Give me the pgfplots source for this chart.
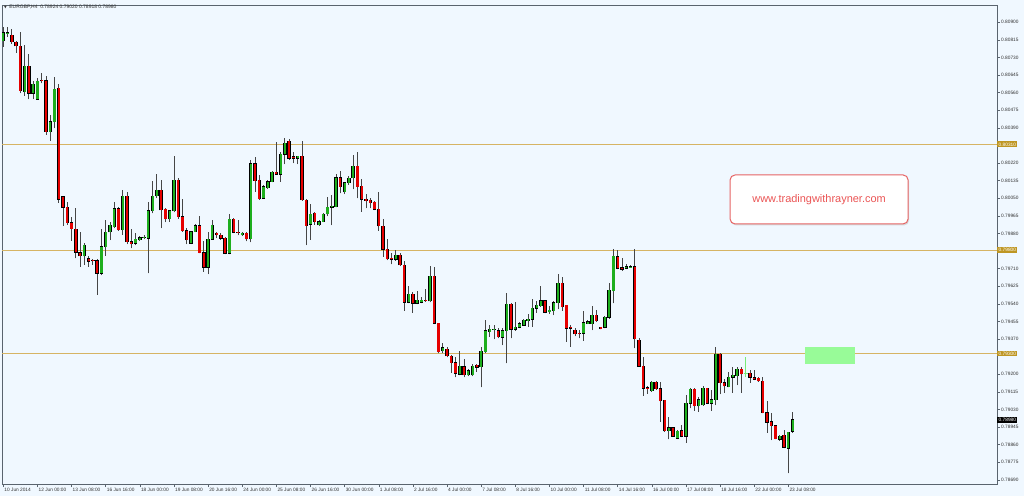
\documentclass[border=0pt]{standalone}
\usepackage{pgfplots}
\pgfplotsset{compat=1.18}
\usepackage{pgfplotstable}
\usepackage{fontspec}
\setmainfont{Liberation Sans}
\newfontfamily\symfont{DejaVu Sans}
\usetikzlibrary{shadows}

\definecolor{bg}{RGB}{240,248,255}
\definecolor{bull}{RGB}{30,175,30}
\definecolor{bear}{RGB}{230,0,0}
\definecolor{wick}{RGB}{70,70,70}
\definecolor{hline}{RGB}{214,180,100}
\definecolor{lvl}{RGB}{190,150,35}
\definecolor{axisgray}{RGB}{90,100,110}
\definecolor{lbl}{RGB}{50,50,50}
\definecolor{boxred}{RGB}{230,100,100}
\definecolor{txtred}{RGB}{235,85,85}
\definecolor{zone}{RGB}{152,251,152}
\definecolor{cross}{RGB}{120,235,120}

% EURGBP H4, one row per bar
\pgfplotstableread{
i O H L C
0 0.80811 0.80876 0.80782 0.80850
1 0.80847 0.80879 0.80830 0.80850
2 0.80837 0.80866 0.80795 0.80805
3 0.80805 0.80811 0.80753 0.80785
4 0.80785 0.80855 0.80557 0.80570
5 0.80565 0.80790 0.80544 0.80686
6 0.80689 0.80747 0.80528 0.80557
7 0.80557 0.80618 0.80528 0.80602
8 0.80528 0.80629 0.80525 0.80616
9 0.80620 0.80657 0.80605 0.80616
10 0.80618 0.80641 0.80356 0.80372
11 0.80372 0.80452 0.80328 0.80420
12 0.80420 0.80637 0.80388 0.80578
13 0.80581 0.80602 0.80029 0.80045
14 0.80058 0.80061 0.79916 0.80006
15 0.80006 0.80034 0.79921 0.79932
16 0.79932 0.79958 0.79845 0.79902
17 0.79902 0.80001 0.79760 0.79789
18 0.79787 0.79887 0.79720 0.79771
19 0.79771 0.79835 0.79728 0.79824
20 0.79758 0.79771 0.79720 0.79745
21 0.79750 0.79758 0.79728 0.79747
22 0.79749 0.79758 0.79583 0.79687
23 0.79687 0.79900 0.79679 0.79816
24 0.79816 0.79945 0.79771 0.79887
25 0.79887 0.79937 0.79848 0.79921
26 0.79913 0.80034 0.79905 0.80000
27 0.80000 0.80009 0.79894 0.79897
28 0.79897 0.80090 0.79873 0.80061
29 0.80061 0.80082 0.79828 0.79840
30 0.79840 0.79900 0.79808 0.79829
31 0.79832 0.79881 0.79824 0.79852
32 0.79848 0.79868 0.79845 0.79860
33 0.79860 0.79873 0.79852 0.79863
34 0.79856 0.80034 0.79687 0.79990
35 0.79990 0.80135 0.79977 0.80061
36 0.80061 0.80167 0.80050 0.80090
37 0.80090 0.80138 0.79905 0.79993
38 0.79998 0.80002 0.79934 0.79950
39 0.79950 0.79993 0.79937 0.79989
40 0.79989 0.80256 0.79982 0.80138
41 0.80138 0.80146 0.79950 0.79961
42 0.79961 0.80047 0.79889 0.79894
43 0.79894 0.79905 0.79828 0.79849
44 0.79832 0.79892 0.79828 0.79889
45 0.79889 0.79924 0.79886 0.79918
46 0.79918 0.79966 0.79784 0.79787
47 0.79787 0.79841 0.79696 0.79717
48 0.79717 0.79886 0.79683 0.79852
49 0.79852 0.79945 0.79849 0.79921
50 0.79881 0.79889 0.79857 0.79873
51 0.79873 0.79882 0.79849 0.79857
52 0.79857 0.79863 0.79779 0.79784
53 0.79784 0.79973 0.79779 0.79950
54 0.79950 0.79953 0.79881 0.79886
55 0.79887 0.79945 0.79870 0.79884
56 0.79873 0.79886 0.79868 0.79881
57 0.79881 0.79886 0.79841 0.79853
58 0.79853 0.80235 0.79837 0.80216
59 0.80216 0.80251 0.80082 0.80135
60 0.80138 0.80163 0.80042 0.80047
61 0.80050 0.80114 0.80047 0.80106
62 0.80101 0.80138 0.80095 0.80130
63 0.80130 0.80179 0.80127 0.80175
64 0.80175 0.80320 0.80163 0.80166
65 0.80166 0.80275 0.80130 0.80262
66 0.80262 0.80340 0.80214 0.80315
67 0.80324 0.80336 0.80235 0.80243
68 0.80251 0.80272 0.80219 0.80243
69 0.80243 0.80256 0.80214 0.80253
70 0.80253 0.80324 0.80037 0.80042
71 0.80042 0.80047 0.79824 0.79918
72 0.79924 0.80024 0.79849 0.79973
73 0.79977 0.79982 0.79921 0.79937
74 0.79921 0.79945 0.79918 0.79937
75 0.79937 0.79977 0.79934 0.79974
76 0.79974 0.80054 0.79964 0.80006
77 0.80006 0.80065 0.79920 0.80012
78 0.80009 0.80167 0.80006 0.80149
79 0.80149 0.80183 0.80073 0.80106
80 0.80081 0.80130 0.80070 0.80125
81 0.80125 0.80157 0.80114 0.80146
82 0.80149 0.80259 0.80093 0.80205
83 0.80205 0.80275 0.80049 0.80106
84 0.80109 0.80141 0.79985 0.80044
85 0.80044 0.80070 0.80001 0.80038
86 0.80041 0.80049 0.80001 0.80028
87 0.80030 0.80038 0.79993 0.79996
88 0.79996 0.80078 0.79893 0.79916
89 0.79916 0.79948 0.79768 0.79803
90 0.79803 0.79851 0.79751 0.79756
91 0.79759 0.79784 0.79731 0.79755
92 0.79755 0.79800 0.79748 0.79774
93 0.79776 0.79784 0.79722 0.79727
94 0.79727 0.79748 0.79507 0.79547
95 0.79547 0.79626 0.79542 0.79587
96 0.79587 0.79598 0.79497 0.79542
97 0.79542 0.79603 0.79539 0.79558
98 0.79547 0.79574 0.79542 0.79558
99 0.79558 0.79610 0.79550 0.79553
100 0.79553 0.79722 0.79547 0.79674
101 0.79674 0.79719 0.79442 0.79446
102 0.79446 0.79449 0.79301 0.79309
103 0.79314 0.79349 0.79301 0.79328
104 0.79322 0.79330 0.79281 0.79288
105 0.79288 0.79293 0.79207 0.79256
106 0.79256 0.79285 0.79185 0.79204
107 0.79199 0.79314 0.79194 0.79239
108 0.79236 0.79272 0.79185 0.79196
109 0.79196 0.79223 0.79191 0.79217
110 0.79196 0.79249 0.79191 0.79239
111 0.79244 0.79249 0.79212 0.79233
112 0.79236 0.79330 0.79136 0.79312
113 0.79309 0.79462 0.79304 0.79410
114 0.79405 0.79437 0.79381 0.79417
115 0.79416 0.79437 0.79368 0.79418
116 0.79410 0.79421 0.79373 0.79381
117 0.79378 0.79421 0.79341 0.79410
118 0.79410 0.79590 0.79252 0.79537
119 0.79537 0.79545 0.79373 0.79417
120 0.79417 0.79550 0.79410 0.79426
121 0.79426 0.79454 0.79421 0.79445
122 0.79437 0.79468 0.79433 0.79462
123 0.79458 0.79491 0.79429 0.79466
124 0.79466 0.79561 0.79429 0.79518
125 0.79518 0.79555 0.79497 0.79534
126 0.79531 0.79626 0.79526 0.79555
127 0.79555 0.79558 0.79494 0.79499
128 0.79502 0.79529 0.79491 0.79510
129 0.79507 0.79555 0.79486 0.79545
130 0.79545 0.79684 0.79513 0.79639
131 0.79639 0.79668 0.79507 0.79526
132 0.79532 0.79534 0.79357 0.79421
133 0.79426 0.79437 0.79333 0.79421
134 0.79413 0.79421 0.79384 0.79394
135 0.79399 0.79413 0.79373 0.79396
136 0.79397 0.79507 0.79362 0.79449
137 0.79445 0.79462 0.79442 0.79454
138 0.79445 0.79529 0.79413 0.79486
139 0.79486 0.79510 0.79454 0.79458
140 0.79426 0.79429 0.79417 0.79420
141 0.79426 0.79481 0.79421 0.79475
142 0.79475 0.79642 0.79468 0.79607
143 0.79603 0.79803 0.79542 0.79771
144 0.79768 0.79800 0.79706 0.79711
145 0.79714 0.79759 0.79700 0.79706
146 0.79711 0.79732 0.79706 0.79719
147 0.79719 0.79727 0.79716 0.79720
148 0.79719 0.79803 0.79325 0.79370
149 0.79365 0.79375 0.79236 0.79239
150 0.79239 0.79281 0.79095 0.79132
151 0.79135 0.79143 0.79107 0.79132
152 0.79120 0.79169 0.79115 0.79162
153 0.79162 0.79165 0.79124 0.79130
154 0.79130 0.79164 0.78971 0.79072
155 0.79075 0.79078 0.78922 0.78926
156 0.78927 0.78992 0.78885 0.78942
157 0.78942 0.78946 0.78898 0.78901
158 0.78890 0.78930 0.78887 0.78926
159 0.78927 0.78954 0.78895 0.78901
160 0.78901 0.79099 0.78869 0.79059
161 0.79059 0.79132 0.79035 0.79128
162 0.79128 0.79132 0.79024 0.79048
163 0.79046 0.79091 0.79019 0.79078
164 0.79051 0.79143 0.79048 0.79132
165 0.79132 0.79135 0.79056 0.79059
166 0.79059 0.79124 0.79024 0.79078
167 0.79078 0.79330 0.79051 0.79296
168 0.79297 0.79304 0.79104 0.79159
169 0.79159 0.79175 0.79111 0.79143
170 0.79140 0.79212 0.79136 0.79185
171 0.79185 0.79236 0.79111 0.79196
172 0.79193 0.79233 0.79148 0.79223
173 0.79223 0.79233 0.79111 0.79201
175 0.79204 0.79220 0.79159 0.79185
176 0.79183 0.79220 0.79172 0.79175
177 0.79181 0.79188 0.79164 0.79167
178 0.79167 0.79188 0.79011 0.79014
179 0.79014 0.79070 0.78917 0.78967
180 0.78971 0.79011 0.78882 0.78951
181 0.78951 0.78954 0.78885 0.78888
182 0.78885 0.78906 0.78879 0.78901
183 0.78906 0.78930 0.78842 0.78847
184 0.78842 0.78922 0.78721 0.78920
185 0.78924 0.79020 0.78918 0.78980
}\candles

\pgfplotsset{
  candle part/.style={only marks, mark size=0pt, mark options={draw=none, fill=none}, forget plot},
}

\begin{document}
\begin{tikzpicture}
\useasboundingbox (0,0) rectangle (1024bp,496bp);
\fill[bg] (0,0) rectangle (1024bp,496bp);

\begin{axis}[
    at={(2bp,12bp)}, anchor=south west,
    width=995bp, height=479bp, scale only axis,
    xmin=-0.3, xmax=232.9,
    ymin=0.78670, ymax=0.80983,
    clip=false,
    axis line style={draw=axisgray, line width=0.8bp},
    tick align=outside, major tick length=3bp,
    tick style={draw=axisgray, line width=0.5bp},
    xtick pos=bottom, ytick pos=right, yticklabel pos=right,
    xtick={0,8,...,184},
    xticklabels={10 Jun 2014,12 Jun 00:00,13 Jun 08:00,16 Jun 16:00,18 Jun 00:00,19 Jun 08:00,20 Jun 16:00,24 Jun 00:00,25 Jun 08:00,26 Jun 16:00,30 Jun 00:00,1 Jul 08:00,2 Jul 16:00,4 Jul 00:00,7 Jul 08:00,8 Jul 16:00,10 Jul 00:00,11 Jul 08:00,14 Jul 16:00,16 Jul 00:00,17 Jul 08:00,18 Jul 16:00,22 Jul 00:00,23 Jul 08:00},
    xticklabel style={anchor=north west, inner sep=1bp, font=\fontsize{4.8}{5}\selectfont, text=lbl},
    ytick={0.80900,0.80815,0.80730,0.80645,0.80560,0.80475,0.80390,0.80220,0.80135,0.80050,0.79965,0.79880,0.79710,0.79625,0.79540,0.79455,0.79370,0.79200,0.79115,0.79030,0.78945,0.78860,0.78775,0.78690},
    yticklabels={0.80900,0.80815,0.80730,0.80645,0.80560,0.80475,0.80390,0.80220,0.80135,0.80050,0.79965,0.79880,0.79710,0.79625,0.79540,0.79455,0.79370,0.79200,0.79115,0.79030,0.78945,0.78860,0.78775,0.78690},
    yticklabel style={anchor=west, inner sep=1bp, font=\fontsize{4.8}{5}\selectfont, text=lbl},
]

% levels
\addplot[hline, line width=0.8bp, forget plot] coordinates {(-0.3,0.80310) (232.9,0.80310)};
\addplot[hline, line width=0.8bp, forget plot] coordinates {(-0.3,0.79800) (232.9,0.79800)};
\addplot[hline, line width=0.8bp, forget plot] coordinates {(-0.3,0.79300) (232.9,0.79300)};

% zone
\addplot[fill=zone, draw=none, forget plot] coordinates {(187.9,0.79249) (199.6,0.79249) (199.6,0.79331) (187.9,0.79331)} --cycle;

% wicks
\addplot[candle part,
    error bars/.cd, y dir=plus, y explicit, error mark=none,
    error bar style={line width=0.8bp, draw=wick}]
    table[x=i, y=L, y error expr=\thisrow{H}-\thisrow{L}] {\candles};

% body outlines
\addplot[candle part,
    error bars/.cd, y dir=plus, y explicit, error mark=none,
    error bar style={line width=3.4bp, draw=black}]
    table[x=i, y expr={min(\thisrow{O},\thisrow{C})-0.000017},
          y error expr={abs(\thisrow{C}-\thisrow{O})+0.000034}] {\candles};

% bull bodies
\addplot[candle part,
    x filter/.expression={\thisrow{C}>=\thisrow{O} ? x : nan},
    error bars/.cd, y dir=plus, y explicit, error mark=none,
    error bar style={line width=2.2bp, draw=bull}]
    table[x=i, y=O, y error expr={\thisrow{C}-\thisrow{O}}] {\candles};

% bear bodies
\addplot[candle part,
    x filter/.expression={\thisrow{C}<\thisrow{O} ? x : nan},
    error bars/.cd, y dir=plus, y explicit, error mark=none,
    error bar style={line width=2.2bp, draw=bear}]
    table[x=i, y=C, y error expr={\thisrow{O}-\thisrow{C}}] {\candles};

% bar 174 drawn light green
\addplot[cross, line width=0.6bp, forget plot] coordinates {(174,0.79185) (174,0.79281)};
\addplot[cross, line width=0.6bp, forget plot] coordinates {(173.5,0.79204) (174.5,0.79204)};

% price boxes on the scale
\node[fill=lvl, text=white, inner xsep=1.5bp, inner ysep=1.2bp, anchor=west, font=\fontsize{4.8}{5}\selectfont] at (axis cs:232.9,0.80310) {0.80310};
\node[fill=lvl, text=white, inner xsep=1.5bp, inner ysep=1.2bp, anchor=west, font=\fontsize{4.8}{5}\selectfont] at (axis cs:232.9,0.79800) {0.79800};
\node[fill=lvl, text=white, inner xsep=1.5bp, inner ysep=1.2bp, anchor=west, font=\fontsize{4.8}{5}\selectfont] at (axis cs:232.9,0.79300) {0.79300};
\node[fill=black, text=white, inner xsep=1.5bp, inner ysep=1.2bp, anchor=west, font=\fontsize{4.8}{5}\selectfont] at (axis cs:232.9,0.78980) {0.78980};

% watermark box
\node[draw=boxred, line width=1bp, fill=white, rounded corners=5bp,
      minimum width=178bp, minimum height=49bp,
      drop shadow={shadow xshift=1bp, shadow yshift=-1.5bp, fill=gray!50},
      text=txtred, font=\fontsize{11}{13}\selectfont]
      at (axis cs:191.2,0.80044) {www.tradingwithrayner.com};
\end{axis}

\node[anchor=west, inner sep=0pt, text=lbl, font=\fontsize{5}{6}\selectfont] at (4bp,488.5bp) {{\symfont\fontsize{3.5}{4}\selectfont ▼}\hspace{2.5bp}EURGBP,H4\ \ 0.78924 0.79020 0.78918 0.78980};
\end{tikzpicture}
\end{document}
